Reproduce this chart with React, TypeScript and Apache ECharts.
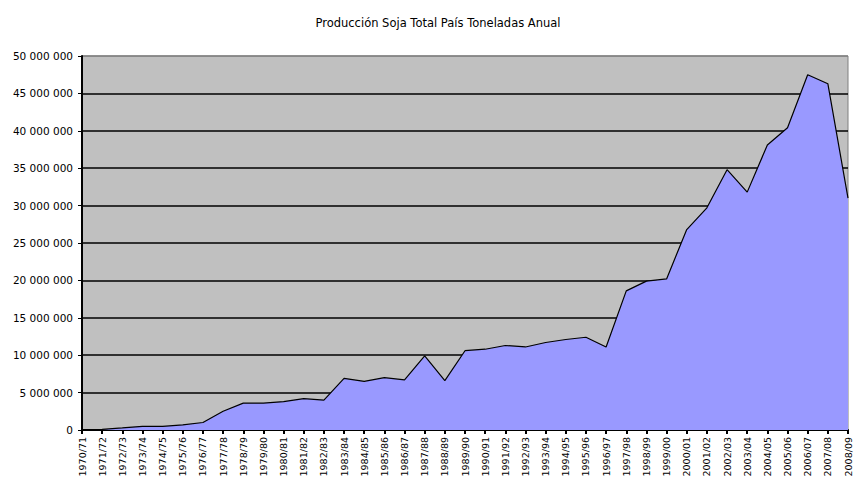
import React, { useEffect, useRef } from "react";
import * as echarts from "echarts";

const title = "Producción Soja Total País Toneladas Anual";

const seasons = [
  "1970/71", "1971/72", "1972/73", "1973/74", "1974/75", "1975/76", "1976/77",
  "1977/78", "1978/79", "1979/80", "1980/81", "1981/82", "1982/83", "1983/84",
  "1984/85", "1985/86", "1986/87", "1987/88", "1988/89", "1989/90", "1990/91",
  "1991/92", "1992/93", "1993/94", "1994/95", "1995/96", "1996/97", "1997/98",
  "1998/99", "1999/00", "2000/01", "2001/02", "2002/03", "2003/04", "2004/05",
  "2005/06", "2006/07", "2007/08", "2008/09",
];

const production = [
  59000, 78000, 272000, 496000, 485000, 695000, 1000000,
  2500000, 3600000, 3600000, 3800000, 4200000, 4000000, 6900000,
  6500000, 7000000, 6700000, 9900000, 6600000, 10600000, 10800000,
  11300000, 11100000, 11700000, 12100000, 12400000, 11100000, 18600000,
  19900000, 20200000, 26800000, 29700000, 34800000, 31800000, 38100000,
  40400000, 47500000, 46300000, 31000000,
];

const yMin = 0;
const yMax = 50000000;
const yStep = 5000000;

const fmt = (v: number) =>
  String(Math.round(v)).replace(/\B(?=(\d{3})+(?!\d))/g, " ");

export default function App() {
  const ref = useRef<HTMLDivElement>(null);
  useEffect(() => {
    if (!ref.current) return;
    const chart = echarts.init(ref.current, undefined, { renderer: "svg" });
    const nSplit = (yMax - yMin) / yStep + 1;
    const splitColors: string[] = [];
    for (let i = 0; i < nSplit; i++) splitColors.push(i === nSplit - 1 ? "#808080" : "#000000");
    chart.setOption({
      animation: false,
      backgroundColor: "#ffffff",
      textStyle: { fontFamily: "DejaVu Sans" },
      title: {
        text: title,
        left: 433,
        top: 12,
        textAlign: "center",
        textStyle: { fontSize: 11.5, fontWeight: "normal", color: "#000", fontFamily: "DejaVu Sans" },
      },
      grid: {
        left: 82,
        right: 1,
        top: 56,
        bottom: 50,
        show: true,
        backgroundColor: "#C0C0C0",
        borderColor: "#808080",
        borderWidth: 1,
      },
      xAxis: {
        type: "category",
        data: seasons,
        boundaryGap: false,
        axisLine: { lineStyle: { color: "#000", width: 2 } },
        axisTick: { show: true, length: 4, lineStyle: { color: "#000", width: 2 } },
        axisLabel: {
          interval: 0,
          rotate: 90,
          fontSize: 9.5,
          color: "#000",
          margin: 7,
          fontFamily: "DejaVu Sans",
        },
        splitLine: { show: false },
      },
      yAxis: {
        type: "value",
        min: yMin,
        max: yMax,
        interval: yStep,
        axisLine: { show: true, lineStyle: { color: "#000", width: 2 } },
        axisTick: { show: true, length: 4, lineStyle: { color: "#000", width: 1 } },
        axisLabel: {
          fontSize: 10.5,
          color: "#000",
          margin: 9,
          formatter: (v: number) => fmt(v),
          fontFamily: "DejaVu Sans",
        },
        splitLine: { show: true, lineStyle: { color: splitColors, width: 1.5 } },
      },
      series: [
        {
          type: "line",
          data: production,
          symbol: "none",
          lineStyle: { color: "#000", width: 1.2 },
          areaStyle: { color: "#9999FF", opacity: 1 },
          z: 3,
        },
      ],
    });
    return () => chart.dispose();
  }, []);
  return (
    <div
      ref={ref}
      style={{ position: "fixed", left: 0, top: 0, width: 853, height: 480 }}
    />
  );
}
